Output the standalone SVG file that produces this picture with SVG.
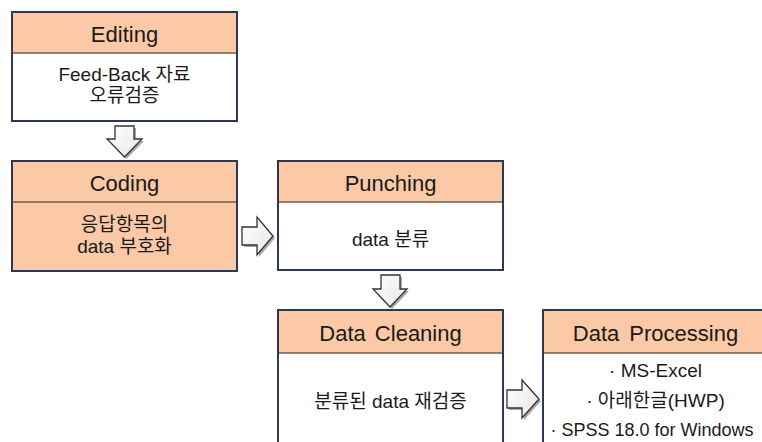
<svg xmlns="http://www.w3.org/2000/svg" width="762" height="442" viewBox="0 0 762 442">
  <defs>
    <style>
      .box { stroke: #2c3858; stroke-width: 2; }
      .head { fill: #fbc9a6; }
      .body { fill: #ffffff; }
      .bodyp { fill: #fbc9a6; }
      .div { stroke: #7a5a48; stroke-width: 1.5; }
      .ttl { font-family: "Liberation Sans", "Noto Sans CJK KR", sans-serif; font-size: 22px; fill: #1a1a1a; text-anchor: middle; }
      .txt { font-family: "Liberation Sans", "Noto Sans CJK KR", sans-serif; font-size: 19px; fill: #1a1a1a; text-anchor: middle; }
      .arr { fill: url(#arrFill); stroke: #333333; stroke-width: 1.3; stroke-linejoin: miter; }
      .arrShadow { fill: #a8a8a8; stroke: none; }
    </style>
    <linearGradient id="arrFill" x1="0" y1="0" x2="1" y2="1">
      <stop offset="0" stop-color="#ffffff"/>
      <stop offset="1" stop-color="#e6e6e6"/>
    </linearGradient>
  </defs>

  <rect width="762" height="442" fill="#ffffff"/>

  <!-- Editing -->
  <g id="editing">
    <rect class="body box" x="12" y="12" width="225" height="109"/>
    <rect class="head" x="13" y="13" width="223" height="40"/>
    <line class="div" x1="13" y1="53" x2="236" y2="53"/>
    <rect x="12" y="12" width="225" height="109" fill="none" class="box"/>
    <text class="ttl" x="124.5" y="42">Editing</text>
    <text class="txt" x="124.5" y="81">Feed-Back 자료</text>
    <text class="txt" x="124.5" y="102">오류검증</text>
  </g>

  <!-- Coding -->
  <g id="coding">
    <rect class="bodyp box" x="12" y="161" width="225" height="110"/>
    <line class="div" x1="13" y1="202" x2="236" y2="202"/>
    <text class="ttl" x="124.5" y="191">Coding</text>
    <text class="txt" x="124.5" y="231">응답항목의</text>
    <text class="txt" x="124.5" y="253">data 부호화</text>
  </g>

  <!-- Punching -->
  <g id="punching">
    <rect class="body box" x="278" y="161" width="225" height="109"/>
    <rect class="head" x="279" y="162" width="223" height="40"/>
    <line class="div" x1="279" y1="202" x2="502" y2="202"/>
    <rect x="278" y="161" width="225" height="109" fill="none" class="box"/>
    <text class="ttl" x="390.5" y="191">Punching</text>
    <text class="txt" x="390.5" y="246">data 분류</text>
  </g>

  <!-- Data Cleaning -->
  <g id="data-cleaning">
    <rect class="body box" x="278" y="310" width="225" height="145"/>
    <rect class="head" x="279" y="311" width="223" height="42"/>
    <line class="div" x1="279" y1="353" x2="502" y2="353"/>
    <rect x="278" y="310" width="225" height="145" fill="none" class="box"/>
    <text class="ttl" x="390.5" y="341" word-spacing="3">Data Cleaning</text>
    <text class="txt" x="390.5" y="408">분류된 data 재검증</text>
  </g>

  <!-- Data Processing -->
  <g id="data-processing">
    <rect class="body box" x="543" y="310" width="230" height="145"/>
    <rect class="head" x="544" y="311" width="228" height="42"/>
    <line class="div" x1="544" y1="353" x2="772" y2="353"/>
    <rect x="543" y="310" width="230" height="145" fill="none" class="box"/>
    <text class="ttl" x="655.5" y="341" word-spacing="4">Data Processing</text>
    <text class="txt" x="655.5" y="377">· MS-Excel</text>
    <text class="txt" x="655.5" y="407">· 아래한글(HWP)</text>
    <text class="txt" x="652" y="436" style="font-size:18px">· SPSS 18.0 for Windows</text>
  </g>

  <!-- connectors: hollow block arrows -->
  <g id="connectors">
    <!-- Editing to Coding -->
    <path class="arrShadow" d="M117,128 H136 V141 H144 L126.5,159 L109,141 H117 Z"/>
    <path class="arr" d="M115,126 H134 V139 H142 L124.5,157 L107,139 H115 Z"/>
    <!-- Coding to Punching -->
    <path class="arrShadow" d="M244,229 H259 V219 L275,238 L259,257 V247 H244 Z"/>
    <path class="arr" d="M242,227 H257 V217 L273,236 L257,255 V245 H242 Z"/>
    <!-- Punching to Data Cleaning -->
    <path class="arrShadow" d="M383,277 H402 V291 H409 L392,309 L375,291 H383 Z"/>
    <path class="arr" d="M381,275 H400 V289 H407 L390,307 L373,289 H381 Z"/>
    <!-- Data Cleaning to Data Processing -->
    <path class="arrShadow" d="M509,392 H524 V382 L541,401 L524,420 V410 H509 Z"/>
    <path class="arr" d="M507,390 H522 V380 L539,399 L522,418 V408 H507 Z"/>
  </g>
</svg>
